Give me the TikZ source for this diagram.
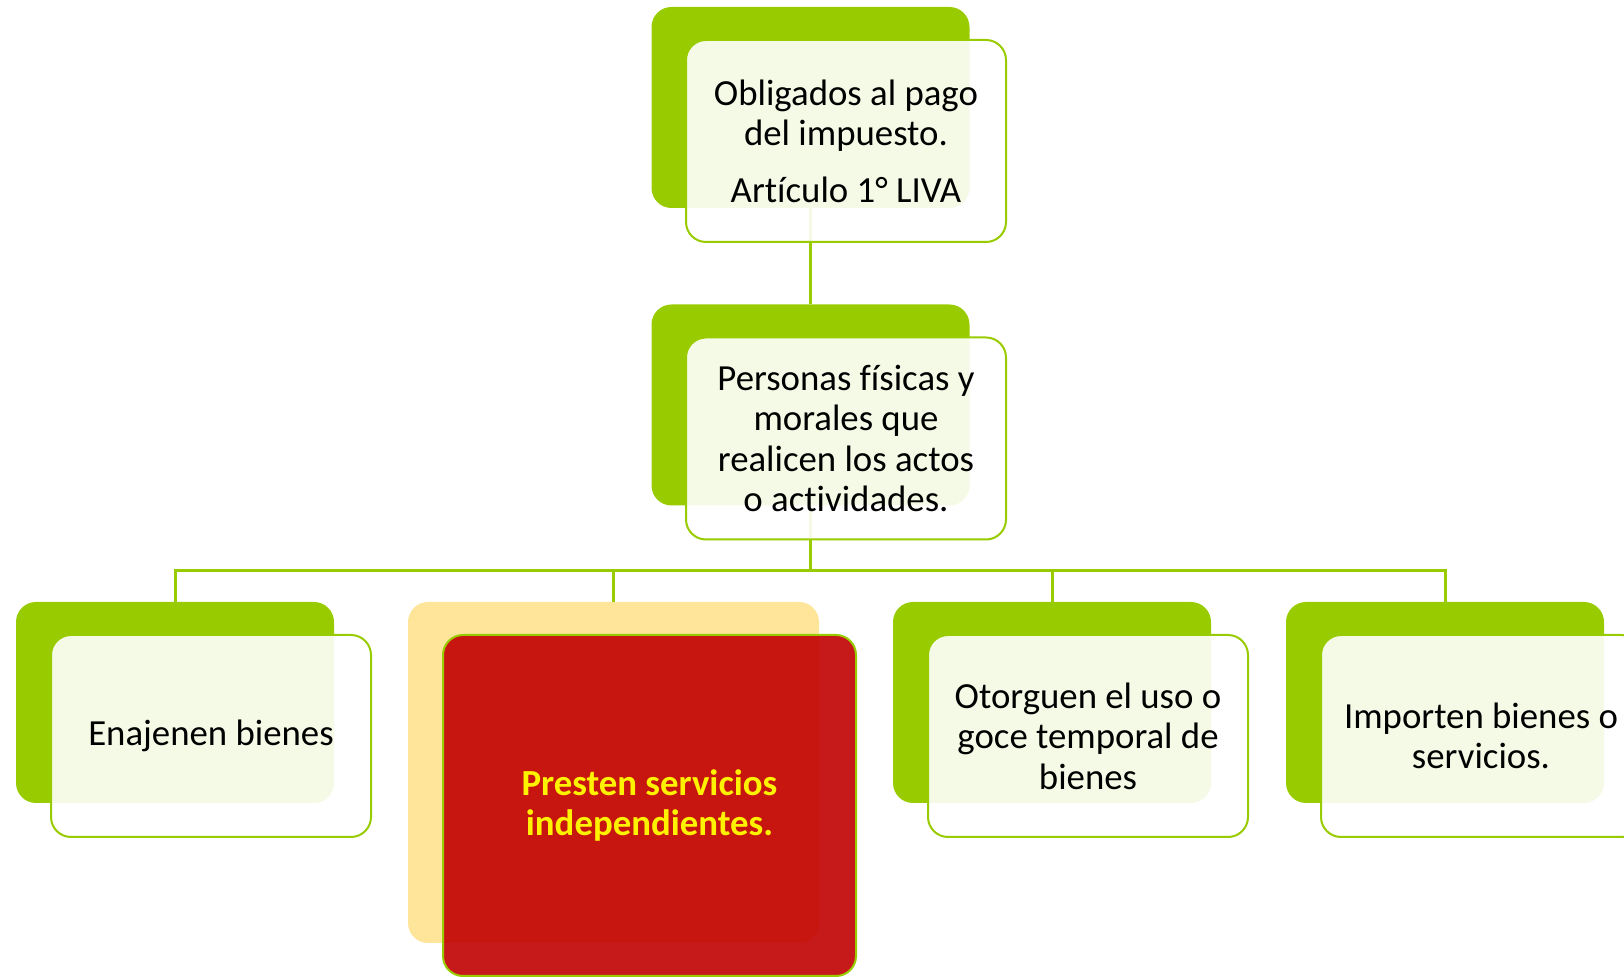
\documentclass[tikz,border=0pt]{standalone}
\usepackage{fontspec}
\setmainfont{Carlito}[Ligatures=NoCommon]
\usetikzlibrary{calc,positioning}
\definecolor{leafgreen}{RGB}{153,204,0}
\definecolor{paleyellow}{RGB}{255,229,153}
\definecolor{deepred}{RGB}{192,0,0}
\tikzset{
  back/.style={fill=leafgreen, rounded corners=10pt, inner sep=0pt,
    minimum width=159pt, minimum height=100.5pt},
  front/.style={draw=leafgreen, line width=1pt, fill=white, fill opacity=0.9,
    text opacity=1, rounded corners=10pt, inner sep=0pt, align=center,
    minimum width=160pt, minimum height=101pt,
    font=\fontsize{18.4}{20.3}\selectfont},
  link/.style={draw=leafgreen, line width=1.5pt},
}

\begin{document}
\begin{tikzpicture}[x=0.5pt,y=-0.5pt]
  \useasboundingbox (0,0) rectangle (1624,977);
  % back boxes
  \node [back] (topb) at (810.5,107.5) {};
  \node [back] (midb) at (810.5,405) {};
  \node [back] (b1) at (175,702.5) {};
  \node [back, fill=paleyellow, minimum width=205.5pt, minimum height=170.5pt] (b2) at (613.5,772.5) {};
  \node [back] (b3) at (1052,702.5) {};
  \node [back] (b4) at (1445,702.5) {};
  % connectors
  \draw [link] (topb.south) -- (midb.north);
  \draw [link] (midb.south) -- ++(0,65) coordinate (hub);
  \foreach \n in {b1,b2,b3,b4}
    \draw [link] (hub) -| (\n.north);
  % front boxes
  \node [front] (topf) at ($(topb)+(35.5,33.5)$)
    {Obligados al pago\\del impuesto.\\[8pt]Artículo 1° LIVA};
  \node [front] (midf) at ($(midb)+(35.5,33.5)$)
    {Personas físicas y\\morales que\\realicen los actos\\o actividades.};
  \node [front] (f1) at ($(b1)+(36,33.5)$) {Enajenen bienes};
  \node [front, fill=deepred, minimum width=206.5pt, minimum height=170.5pt,
    text=yellow, font=\fontsize{18.4}{20.3}\selectfont\bfseries] (f2) at ($(b2)+(36,33)$)
    {Presten servicios\\independientes.};
  \node [front] (f3) at ($(b3)+(36,33.5)$) {Otorguen el uso o\\goce temporal de\\bienes};
  \node [front] (f4) at ($(b4)+(36,33.5)$) {Importen bienes o\\servicios.};
\end{tikzpicture}
\end{document}
